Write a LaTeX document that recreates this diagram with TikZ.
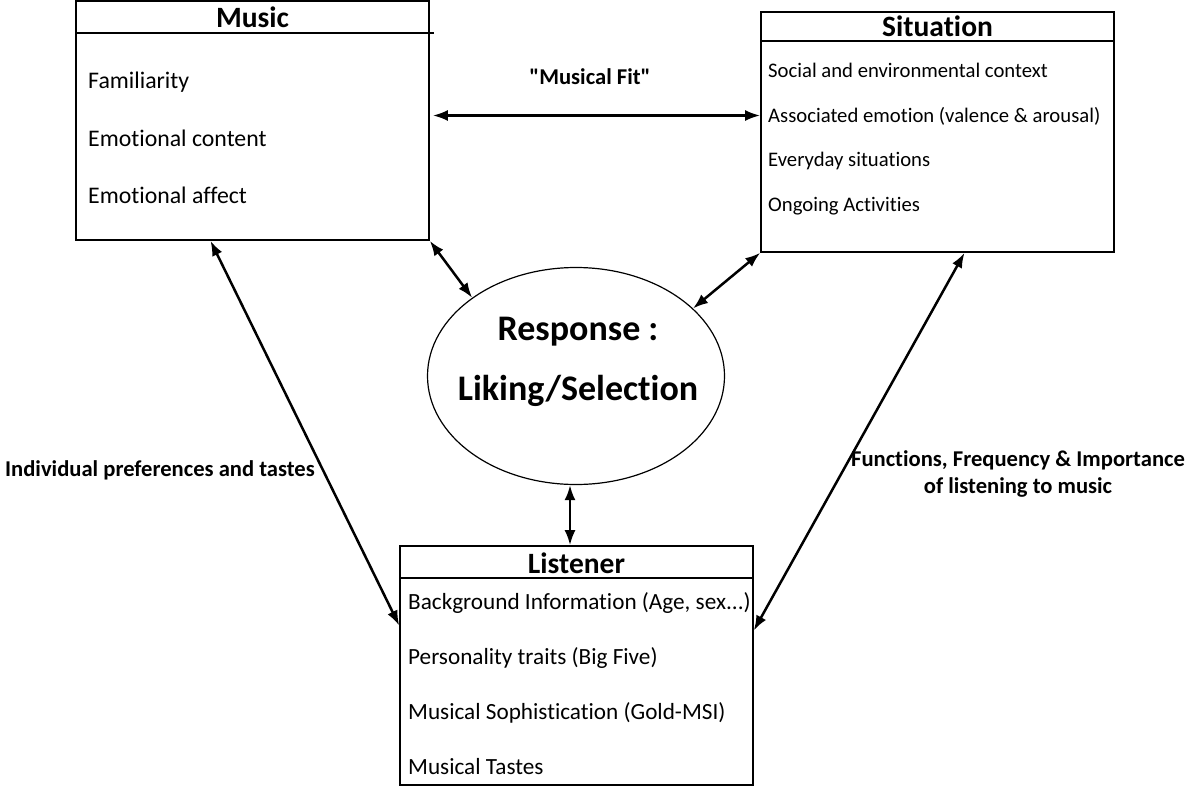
\documentclass[tikz,border=0pt]{standalone}
\usepackage{fontspec}
\setmainfont{Carlito}[Ligatures={NoCommon,TeXOff}]
\usetikzlibrary{arrows.meta,shapes.geometric}

\begin{document}
\begin{tikzpicture}[x=1pt,y=-1pt,
    box/.style={draw,line width=1.6pt,minimum width=353pt,inner sep=0pt},
    head/.style={font=\fontsize{29.5}{31}\selectfont\bfseries,inner sep=0pt},
    musicitem/.style={anchor=west,inner sep=0pt,font=\fontsize{23.8}{25}\selectfont},
    sititem/.style={anchor=west,inner sep=0pt,font=\fontsize{20.7}{22}\selectfont},
    listitem/.style={anchor=west,inner sep=0pt,font=\fontsize{23.2}{25}\selectfont},
    tag/.style={inner sep=0pt,font=\fontsize{22.6}{27}\selectfont\bfseries},
    link/.style={{Latex[length=15pt,width=11pt]}-{Latex[length=15pt,width=11pt]},line width=2.5pt}]

\useasboundingbox (0,0) rectangle (1188,787);

\node[box,minimum height=239pt] (music) at (252.5,120.5) {};
\node[head] (musichead) at ([yshift=-17pt]music.north) {Music};
\draw[line width=1.6pt] ([yshift=-33pt]music.north west) -- ([xshift=4pt,yshift=-33pt]music.north east);
\node[musicitem] (familiarity) at (88,82) {Familiarity};
\node[musicitem] (content) at (88,138) {Emotional content};
\node[musicitem] (affect) at (88,195) {Emotional affect};

\node[box,minimum height=240pt] (situation) at (937.5,132) {};
\node[head] (situationhead) at ([yshift=-15pt]situation.north) {Situation};
\draw[line width=1.6pt] ([yshift=-30pt]situation.north west) -- ([yshift=-30pt]situation.north east);
\node[sititem] (social) at (768,70) {Social and environmental context};
\node[sititem] (emotion) at (768,116) {Associated emotion (valence \& arousal)};
\node[sititem] (everyday) at (768,161) {Everyday situations};
\node[sititem] (ongoing) at (768,206) {Ongoing Activities};

\node[box,minimum height=239pt] (listener) at (576.5,665.5) {};
\node[head] (listenerhead) at ([yshift=-18pt]listener.north) {Listener};
\draw[line width=1.6pt] ([yshift=-33pt]listener.north west) -- ([yshift=-33pt]listener.north east);
\node[listitem] (background) at (408,603) {Background Information (Age, sex...)};
\node[listitem] (personality) at (408,658) {Personality traits (Big Five)};
\node[listitem] (sophistication) at (408,713) {Musical Sophistication (Gold-MSI)};
\node[listitem] (tastes) at (408,767) {Musical Tastes};

\node[draw,ellipse,line width=1.2pt,minimum width=297pt,minimum height=217pt,inner sep=0pt] (resp) at (576,376) {};
\node[align=center,inner sep=0pt,font=\fontsize{36}{60}\selectfont\bfseries] (resptext) at (578,362) {Response :\\Liking/Selection};

\node[tag] (fit) at (590,77) {"Musical Fit"};
\node[tag,anchor=east] (preferences) at (315,470) {Individual preferences and tastes};
\node[tag,align=center] (functions) at (1018,474) {Functions, Frequency \& Importance\\of listening to music};

\coordinate (fitstart) at ([xshift=3pt,yshift=5pt]music.east);
\draw[link] (fitstart) -- (fitstart -| situation.west);
\draw[link] (music.south east) -- (resp.143);
\draw[link] (situation.south west) -- (resp.30);
\draw[link] ([xshift=-6pt]resp.south) -- ([xshift=-6pt]resp.south |- listener.north);
\draw[link] ([xshift=-42pt]music.south) -- ([yshift=40pt]listener.west);
\draw[link] ([xshift=27pt]situation.south) -- ([yshift=35pt]listener.east);

\end{tikzpicture}
\end{document}
